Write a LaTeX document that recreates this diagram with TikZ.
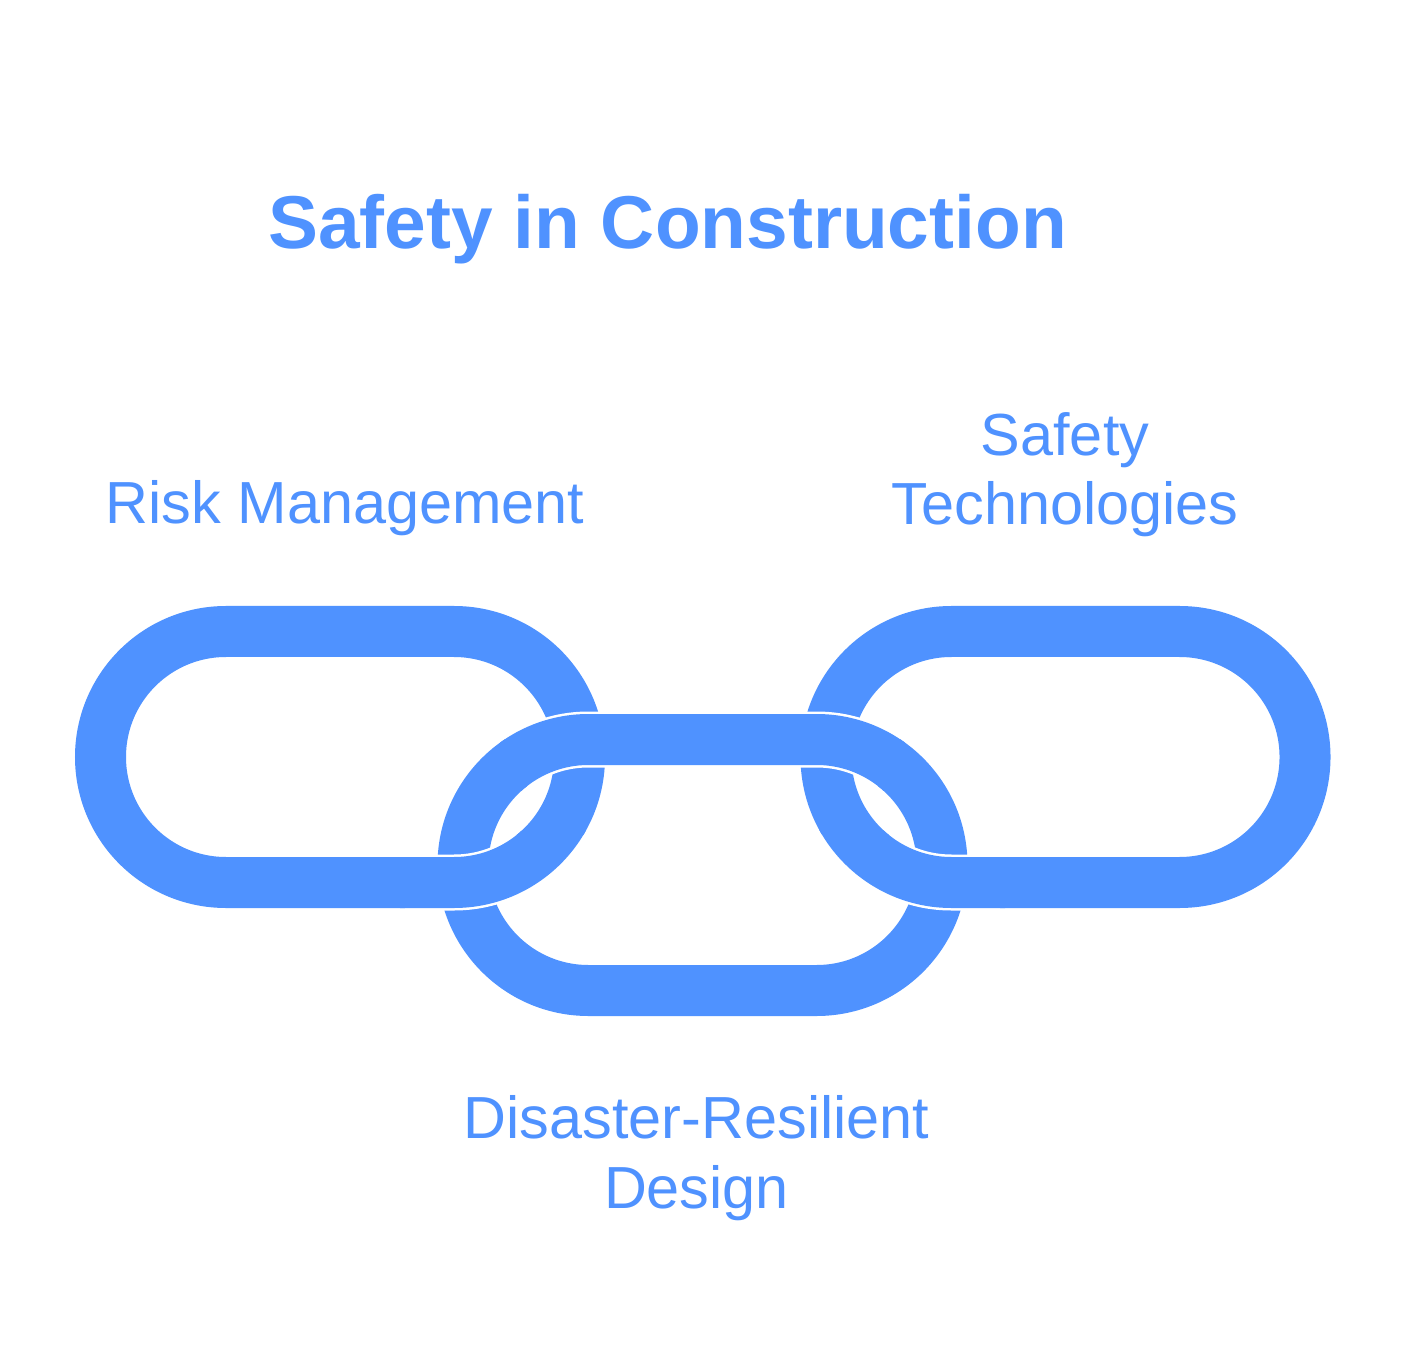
\documentclass[tikz,border=0pt]{standalone}
\usepackage{fontspec}
\setmainfont{Liberation Sans}
\usetikzlibrary{positioning}
\definecolor{chainblue}{HTML}{4F92FF}
\definecolor{paper}{HTML}{FFFFFF}

% one link of the chain, centred on a named coordinate
\newcommand{\chainlink}[2][]{%
  \draw[link,#1] (#2) ++(-1.14,-1.255) -- ++(2.28,0)
    arc[start angle=-90,end angle=90,radius=1.255] -- ++(-2.28,0)
    arc[start angle=90,end angle=270,radius=1.255] -- cycle;}

\begin{document}
\begin{tikzpicture}[
    link/.style={draw=chainblue, line width=0.51cm},
    linkgap/.style={draw=paper, line width=0.56cm},
    title/.style={font=\bfseries\fontsize{21.3}{26}\selectfont, text=chainblue, anchor=base},
    label/.style={font=\fontsize{16.9}{19.9}\selectfont, text=chainblue, align=center, anchor=base}
]
    \fill[paper] (0,0) rectangle (14.07,13.71);
    \useasboundingbox (0,0) rectangle (14.07,13.71);

    \node[title] (title) at (6.675,11.22) {Safety in Construction};

    \coordinate (riskc) at (3.40,6.14);
    \coordinate (designc) at (7.025,5.06);
    \coordinate (techc) at (10.655,6.14);

    \chainlink{riskc}
    \chainlink{techc}
    \chainlink{designc}

    % middle link passes over the outer links at the top
    \begin{scope}
        \clip (5.05,5.86) rectangle (9.00,6.76);
        \chainlink[linkgap]{designc}
    \end{scope}
    \begin{scope}
        \clip (5.00,5.81) rectangle (9.05,6.81);
        \chainlink{designc}
    \end{scope}
    % outer links pass over the middle link at the bottom
    \begin{scope}
        \clip (4.05,4.46) rectangle (6.35,5.36);
        \chainlink[linkgap]{riskc}
    \end{scope}
    \begin{scope}
        \clip (4.00,4.41) rectangle (6.40,5.41);
        \chainlink{riskc}
    \end{scope}
    \begin{scope}
        \clip (7.70,4.46) rectangle (10.00,5.36);
        \chainlink[linkgap]{techc}
    \end{scope}
    \begin{scope}
        \clip (7.65,4.41) rectangle (10.05,5.41);
        \chainlink{techc}
    \end{scope}

    \node[label] (risk) at (3.45,8.47) {Risk Management};
    \node[label] (tech) at (10.65,8.46) {Safety\\Technologies};
    \node[label] (design) at (6.965,1.63) {Disaster-Resilient\\Design};
\end{tikzpicture}
\end{document}
